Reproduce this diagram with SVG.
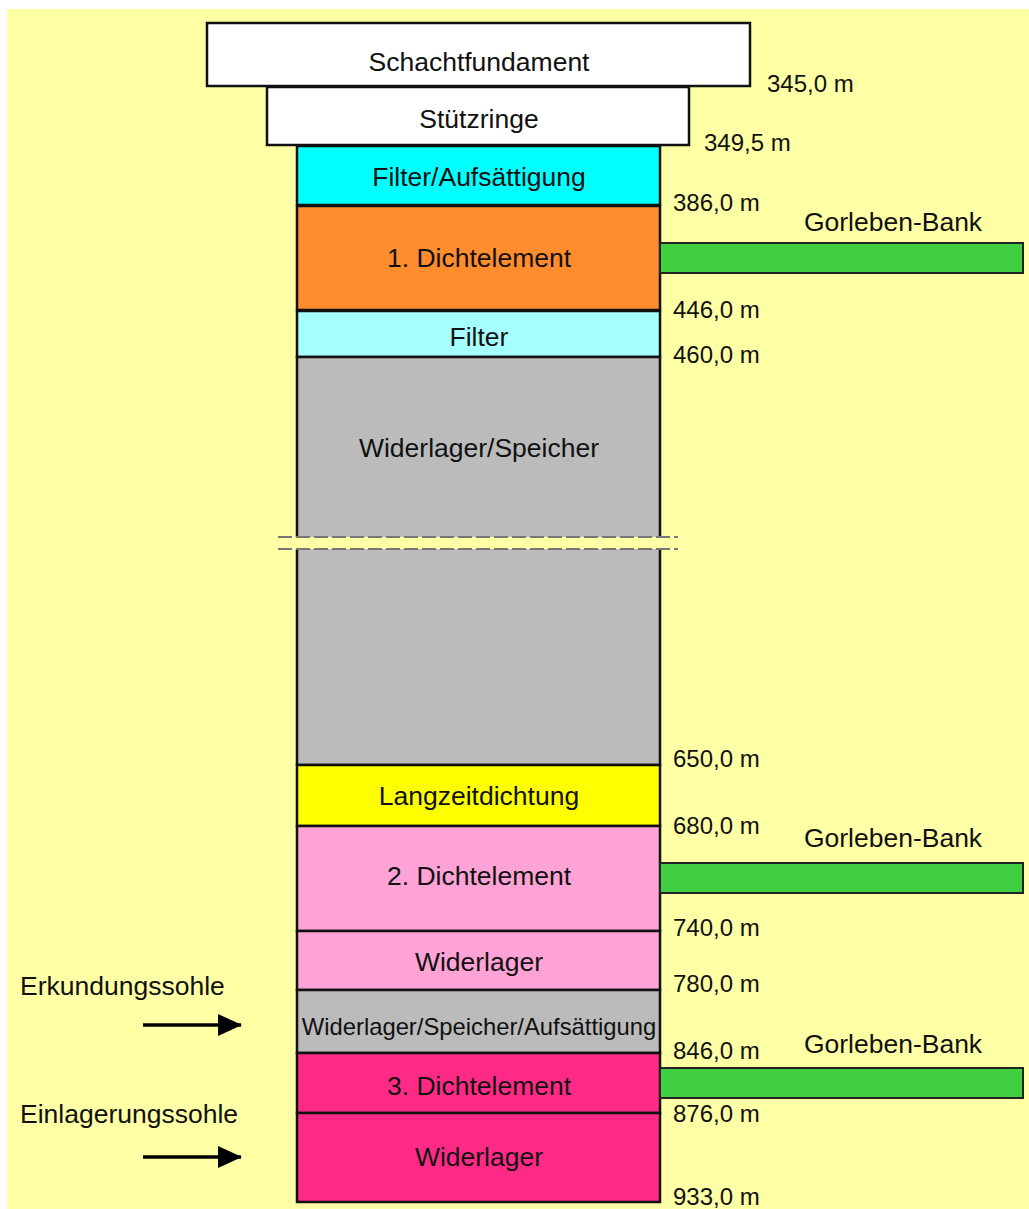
<svg xmlns="http://www.w3.org/2000/svg" width="1029" height="1209" viewBox="0 0 1029 1209">
<defs>
<style>
.lay{stroke:#111;stroke-width:2.5}
.lbl{font-family:"Liberation Sans",Arial,sans-serif;font-size:26.5px;fill:#111;text-anchor:middle}
.num{font-family:"Liberation Sans",Arial,sans-serif;font-size:24px;fill:#111}
.side{font-family:"Liberation Sans",Arial,sans-serif;font-size:26.5px;fill:#111}
.bank{fill:#40CF40;stroke:#222;stroke-width:2}
</style>
<marker id="ah" markerWidth="24" markerHeight="22" refX="23" refY="11" orient="auto" markerUnits="userSpaceOnUse">
<path d="M0,0 L24,11 L0,22 Z" fill="#000"/>
</marker>
</defs>
<rect x="0" y="0" width="1029" height="1209" fill="#fff"/>
<rect x="7" y="9" width="1022" height="1200" fill="#FFFFA6"/>

<g id="schachtfundament"><rect class="lay" x="207" y="23" width="543" height="63" fill="#fff"/><text class="lbl" x="479" y="71">Schachtfundament</text></g>
<g id="stuetzringe"><rect class="lay" x="267" y="87" width="422" height="58" fill="#fff"/><text class="lbl" x="479" y="128">Stützringe</text></g>
<g id="filter-aufsaettigung"><rect class="lay" x="297" y="146" width="363" height="59" fill="#00FFFF"/><text class="lbl" x="479" y="186">Filter/Aufsättigung</text></g>
<g id="dichtelement1"><rect class="lay" x="297" y="206" width="363" height="104" fill="#FF8C2D"/><text class="lbl" x="479" y="267">1. Dichtelement</text></g>
<g id="filter"><rect class="lay" x="297" y="311" width="363" height="46" fill="#A6FFFF"/><text class="lbl" x="479" y="346">Filter</text></g>
<g id="widerlager-speicher"><rect class="lay" x="297" y="357" width="363" height="408" fill="#BBBBBB"/><text class="lbl" x="479" y="457">Widerlager/Speicher</text>
<rect x="276" y="537" width="403" height="12" fill="#FFFFA6"/>
<line x1="278" y1="537" x2="678" y2="537" stroke="#777" stroke-width="2" stroke-dasharray="14 4"/>
<line x1="278" y1="549" x2="678" y2="549" stroke="#777" stroke-width="2" stroke-dasharray="14 4"/>
</g>
<g id="langzeitdichtung"><rect class="lay" x="297" y="765" width="363" height="61" fill="#FFFF00"/><text class="lbl" x="479" y="805">Langzeitdichtung</text></g>
<g id="dichtelement2"><rect class="lay" x="297" y="826" width="363" height="105" fill="#FFA3D6"/><text class="lbl" x="479" y="885">2. Dichtelement</text></g>
<g id="widerlager1"><rect class="lay" x="297" y="931" width="363" height="59" fill="#FFA3D6"/><text class="lbl" x="479" y="971">Widerlager</text></g>
<g id="widerlager-speicher-aufsaettigung"><rect class="lay" x="297" y="990" width="363" height="63" fill="#BBBBBB"/><text class="lbl" x="479" y="1035" style="font-size:23.8px">Widerlager/Speicher/Aufsättigung</text></g>
<g id="dichtelement3"><rect class="lay" x="297" y="1053" width="363" height="60" fill="#FF2A86"/><text class="lbl" x="479" y="1095">3. Dichtelement</text></g>
<g id="widerlager2"><rect class="lay" x="297" y="1113" width="363" height="89" fill="#FF2A86"/><text class="lbl" x="479" y="1166">Widerlager</text></g>

<g id="gorleben-bank-1"><rect class="bank" x="660" y="243" width="363" height="30"/><text class="lbl" x="893" y="231">Gorleben-Bank</text></g>
<g id="gorleben-bank-2"><rect class="bank" x="660" y="863" width="363" height="30"/><text class="lbl" x="893" y="847">Gorleben-Bank</text></g>
<g id="gorleben-bank-3"><rect class="bank" x="660" y="1068" width="363" height="30"/><text class="lbl" x="893" y="1053">Gorleben-Bank</text></g>

<g id="depths">
<text class="num" x="767" y="92">345,0 m</text>
<text class="num" x="704" y="151">349,5 m</text>
<text class="num" x="673" y="211">386,0 m</text>
<text class="num" x="673" y="318">446,0 m</text>
<text class="num" x="673" y="363">460,0 m</text>
<text class="num" x="673" y="767">650,0 m</text>
<text class="num" x="673" y="834">680,0 m</text>
<text class="num" x="673" y="936">740,0 m</text>
<text class="num" x="673" y="992">780,0 m</text>
<text class="num" x="673" y="1059">846,0 m</text>
<text class="num" x="673" y="1122">876,0 m</text>
<text class="num" x="673" y="1205">933,0 m</text>
</g>

<g id="erkundungssohle"><text class="side" x="20" y="995">Erkundungssohle</text></g>
<g id="einlagerungssohle"><text class="side" x="20" y="1123">Einlagerungssohle</text></g>

<g id="connectors">
<line x1="143" y1="1025" x2="241" y2="1025" stroke="#000" stroke-width="3.5" marker-end="url(#ah)"/>
<line x1="143" y1="1157" x2="241" y2="1157" stroke="#000" stroke-width="3.5" marker-end="url(#ah)"/>
</g>
</svg>
